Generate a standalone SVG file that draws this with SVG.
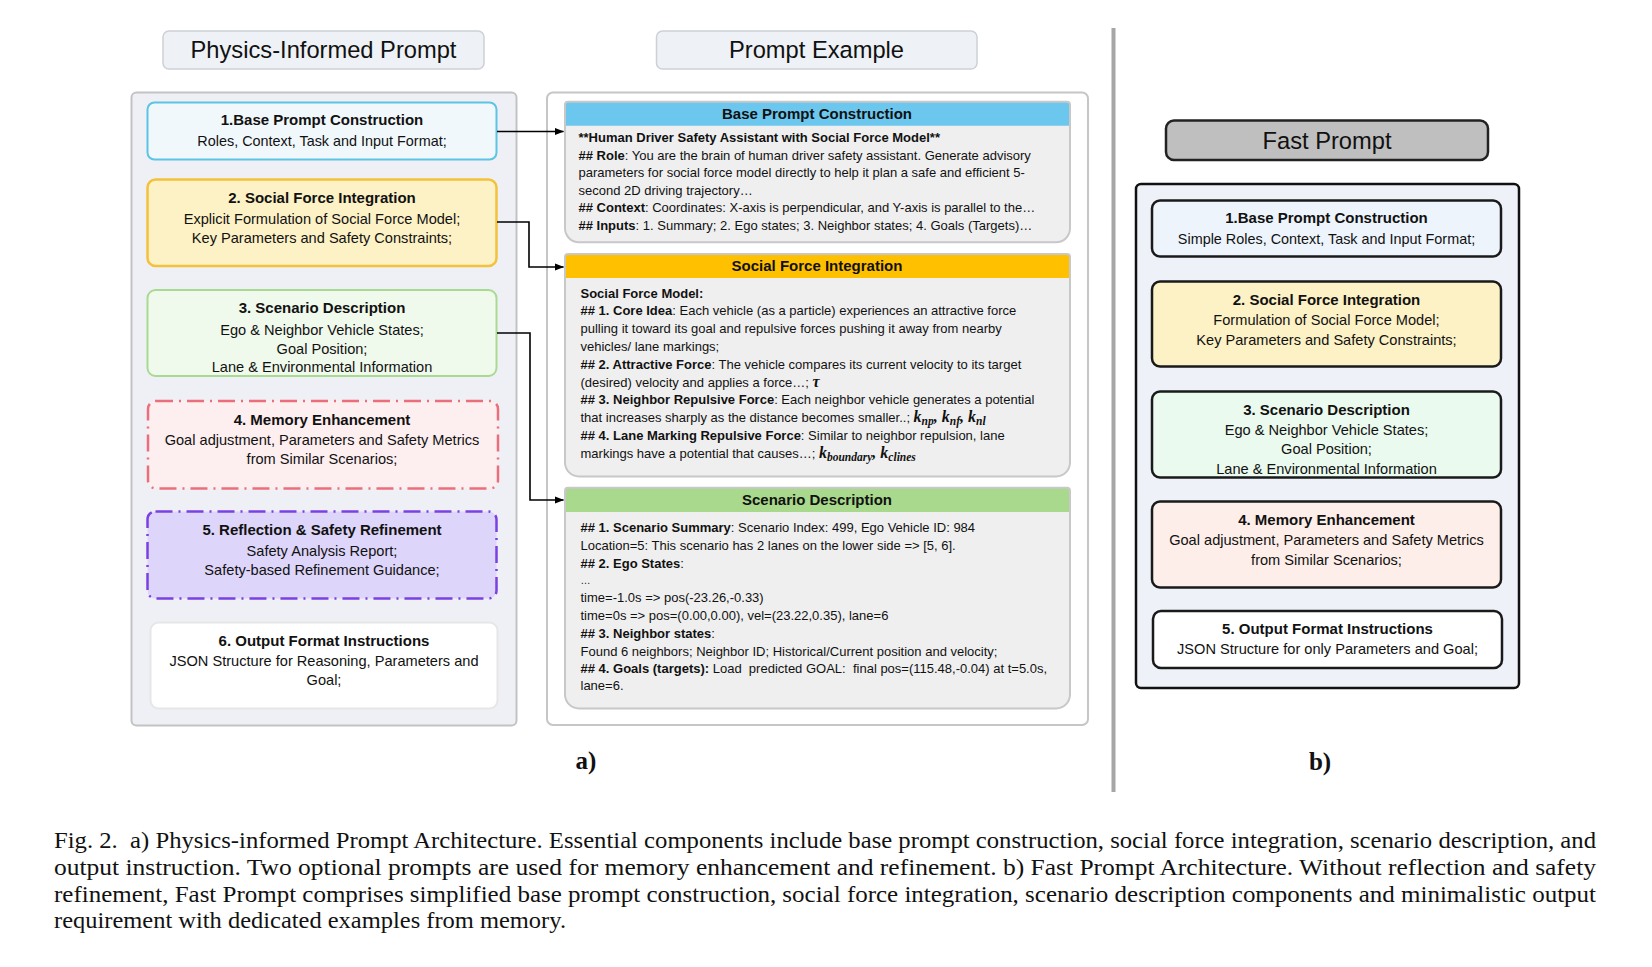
<svg xmlns="http://www.w3.org/2000/svg" width="1652" height="967" viewBox="0 0 1652 967">
<defs>
<marker id="ah" markerWidth="9" markerHeight="8" refX="8.5" refY="4" orient="auto" markerUnits="userSpaceOnUse">
<path d="M0,0.5 L9,4 L0,7.5 Z" fill="#000"/>
</marker>
</defs>
<style>
text{font-family:"Liberation Sans",Arial,sans-serif;fill:#111;white-space:pre}
.ttl{font-size:23.7px;text-anchor:middle}
.bt{font-size:15px;font-weight:bold;text-anchor:middle}
.st{font-size:14.6px;text-anchor:middle}
.hd{font-size:15px;font-weight:bold;text-anchor:middle}
.bd{font-size:13px}
.b{font-weight:bold}
.m{font-family:"Liberation Serif","Times New Roman",serif;font-style:italic;font-weight:bold;font-size:16px}
.ms{font-size:11.5px}
.cap{font-family:"Liberation Serif","Times New Roman",serif;font-size:23px}
.lab{font-family:"Liberation Serif","Times New Roman",serif;font-size:25px;font-weight:bold;text-anchor:middle}
.panelL{fill:#eef0f5;stroke:#c3c3c3;stroke-width:2}
.panelM{fill:#fff;stroke:#c6c6c6;stroke-width:2}
.tbox{fill:#eef1f6;stroke:#cdd0d4;stroke-width:1.5}
.dd{stroke-dasharray:17 6 2 6;stroke-width:2.5}
.card{fill:#efefef}
.cardo{fill:none;stroke:#c8c8c8;stroke-width:2}
.fb{stroke:#1a1a1a;stroke-width:2.5}
.conn{fill:none;stroke:#000;stroke-width:1.6}
</style>

<!-- Panels and titles -->
<g id="title-physics">
<rect class="tbox" x="163" y="31" width="321" height="38" rx="6"/>
<text class="ttl" x="323.5" y="58">Physics-Informed Prompt</text>
</g>
<g id="title-example">
<rect class="tbox" x="656.5" y="31" width="320.5" height="38" rx="6"/>
<text class="ttl" x="816.5" y="58">Prompt Example</text>
</g>
<g id="panel-left"><rect class="panelL" x="131.5" y="92.5" width="385" height="633" rx="5"/></g>
<g id="panel-mid"><rect class="panelM" x="547" y="92.5" width="541" height="632.5" rx="6"/></g>

<!-- Left boxes -->
<g id="box1">
<rect x="147.5" y="102.5" width="349" height="57" rx="7" fill="#f1f8fc" stroke="#5cc4e4" stroke-width="2"/>
<text class="bt" x="322" y="125">1.Base Prompt Construction</text>
<text class="st" x="322" y="145.5" style="font-size:14.4px">Roles, Context, Task and Input Format;</text>
</g>
<g id="box2">
<rect x="147.5" y="179.5" width="349" height="86.5" rx="8" fill="#fdf2c6" stroke="#f3c13a" stroke-width="2.5"/>
<text class="bt" x="322" y="202.5">2. Social Force Integration</text>
<text class="st" x="322" y="223.5">Explicit Formulation of Social Force Model;</text>
<text class="st" x="322" y="242.5">Key Parameters and Safety Constraints;</text>
</g>
<g id="box3">
<rect x="147.5" y="290" width="349" height="86" rx="8" fill="#eff9ec" stroke="#a9da91" stroke-width="2"/>
<text class="bt" x="322" y="312.8">3. Scenario Description</text>
<text class="st" x="322" y="334.5">Ego &amp; Neighbor Vehicle States;</text>
<text class="st" x="322" y="353.5">Goal Position;</text>
<text class="st" x="322" y="372.3">Lane &amp; Environmental Information</text>
</g>
<g id="box4">
<rect class="dd" x="148" y="401" width="350" height="87.5" rx="8" fill="#fdeef0" stroke="#eb6f7a"/>
<text class="bt" x="322" y="424.5">4. Memory Enhancement</text>
<text class="st" x="322" y="444.5">Goal adjustment, Parameters and Safety Metrics</text>
<text class="st" x="322" y="463.5">from Similar Scenarios;</text>
</g>
<g id="box5">
<rect class="dd" x="147.5" y="511.5" width="349" height="87" rx="8" fill="#ddd5fa" stroke="#7b40e2"/>
<text class="bt" x="322" y="534.5">5. Reflection &amp; Safety Refinement</text>
<text class="st" x="322" y="555.5">Safety Analysis Report;</text>
<text class="st" x="322" y="575">Safety-based Refinement Guidance;</text>
</g>
<g id="box6">
<rect x="150.5" y="622.5" width="347" height="86" rx="8" fill="#ffffff" stroke="#e6e6e6" stroke-width="2"/>
<text class="bt" x="324" y="645.5">6. Output Format Instructions</text>
<text class="st" x="324" y="665.5">JSON Structure for Reasoning, Parameters and</text>
<text class="st" x="324" y="685">Goal;</text>
</g>

<!-- Middle cards -->
<g id="card-base">
<path class="card" d="M568,101.7 H1067 A3,3 0 0 1 1070,104.7 V228.3 A14,14 0 0 1 1056,242.3 H579 A14,14 0 0 1 565,228.3 V104.7 A3,3 0 0 1 568,101.7 Z"/>
<path d="M568,101.7 H1067 A3,3 0 0 1 1070,104.7 V125.7 H565 V104.7 A3,3 0 0 1 568,101.7 Z" fill="#6cc7ef"/>
<path class="cardo" d="M568,101.7 H1067 A3,3 0 0 1 1070,104.7 V228.3 A14,14 0 0 1 1056,242.3 H579 A14,14 0 0 1 565,228.3 V104.7 A3,3 0 0 1 568,101.7 Z"/>
<text class="hd" x="817" y="119">Base Prompt Construction</text>
<text class="bd b" x="578.5" y="142">**Human Driver Safety Assistant with Social Force Model**</text>
<text class="bd" x="578.5" y="159.6"><tspan class="b">## Role</tspan>: You are the brain of human driver safety assistant. Generate advisory</text>
<text class="bd" x="578.5" y="177.2">parameters for social force model directly to help it plan a safe and efficient 5-</text>
<text class="bd" x="578.5" y="194.8">second 2D driving trajectory…</text>
<text class="bd" x="578.5" y="212.4"><tspan class="b">## Context</tspan>: Coordinates: X-axis is perpendicular, and Y-axis is parallel to the…</text>
<text class="bd" x="578.5" y="230"><tspan class="b">## Inputs</tspan>: 1. Summary; 2. Ego states; 3. Neighbor states; 4. Goals (Targets)…</text>
</g>
<g id="card-social">
<path class="card" d="M568,254 H1067 A3,3 0 0 1 1070,257 V462.5 A14,14 0 0 1 1056,476.5 H579 A14,14 0 0 1 565,462.5 V257 A3,3 0 0 1 568,254 Z"/>
<path d="M568,254 H1067 A3,3 0 0 1 1070,257 V278 H565 V257 A3,3 0 0 1 568,254 Z" fill="#ffc000"/>
<path class="cardo" d="M568,254 H1067 A3,3 0 0 1 1070,257 V462.5 A14,14 0 0 1 1056,476.5 H579 A14,14 0 0 1 565,462.5 V257 A3,3 0 0 1 568,254 Z"/>
<text class="hd" x="817" y="271.3">Social Force Integration</text>
<text class="bd b" x="580.5" y="297.5">Social Force Model:</text>
<text class="bd" x="580.5" y="315.3"><tspan class="b">## 1. Core Idea</tspan>: Each vehicle (as a particle) experiences an attractive force</text>
<text class="bd" x="580.5" y="333.1">pulling it toward its goal and repulsive forces pushing it away from nearby</text>
<text class="bd" x="580.5" y="350.9">vehicles/ lane markings;</text>
<text class="bd" x="580.5" y="368.7"><tspan class="b">## 2. Attractive Force</tspan>: The vehicle compares its current velocity to its target</text>
<text class="bd" x="580.5" y="386.5">(desired) velocity and applies a force…; <tspan class="m">τ</tspan></text>
<text class="bd" x="580.5" y="404.3"><tspan class="b">## 3. Neighbor Repulsive Force</tspan>: Each neighbor vehicle generates a potential</text>
<text class="bd" x="580.5" y="422.1">that increases sharply as the distance becomes smaller..; <tspan class="m">k</tspan><tspan class="m ms" dy="3">np</tspan><tspan class="m" dy="-3">, k</tspan><tspan class="m ms" dy="3">nf</tspan><tspan class="m" dy="-3">, k</tspan><tspan class="m ms" dy="3">nl</tspan></text>
<text class="bd" x="580.5" y="439.9"><tspan class="b">## 4. Lane Marking Repulsive Force</tspan>: Similar to neighbor repulsion, lane</text>
<text class="bd" x="580.5" y="457.7">markings have a potential that causes…; <tspan class="m">k</tspan><tspan class="m ms" dy="3">boundary</tspan><tspan class="m" dy="-3">, k</tspan><tspan class="m ms" dy="3">clines</tspan></text>
</g>
<g id="card-scenario">
<path class="card" d="M568,487.8 H1067 A3,3 0 0 1 1070,490.8 V694.5 A14,14 0 0 1 1056,708.5 H579 A14,14 0 0 1 565,694.5 V490.8 A3,3 0 0 1 568,487.8 Z"/>
<path d="M568,487.8 H1067 A3,3 0 0 1 1070,490.8 V512 H565 V490.8 A3,3 0 0 1 568,487.8 Z" fill="#a9d98c"/>
<path class="cardo" d="M568,487.8 H1067 A3,3 0 0 1 1070,490.8 V694.5 A14,14 0 0 1 1056,708.5 H579 A14,14 0 0 1 565,694.5 V490.8 A3,3 0 0 1 568,487.8 Z"/>
<text class="hd" x="817" y="505.3">Scenario Description</text>
<text class="bd" x="580.5" y="532.4"><tspan class="b">## 1. Scenario Summary</tspan>: Scenario Index: 499, Ego Vehicle ID: 984</text>
<text class="bd" x="580.5" y="550.2">Location=5: This scenario has 2 lanes on the lower side =&gt; [5, 6].</text>
<text class="bd" x="580.5" y="568"><tspan class="b">## 2. Ego States</tspan>:</text>
<text class="bd" x="580.5" y="584" style="font-size:10px">…</text>
<text class="bd" x="580.5" y="601.9">time=-1.0s =&gt; pos(-23.26,-0.33)</text>
<text class="bd" x="580.5" y="619.8">time=0s =&gt; pos=(0.00,0.00), vel=(23.22,0.35), lane=6</text>
<text class="bd" x="580.5" y="637.7"><tspan class="b">## 3. Neighbor states</tspan>:</text>
<text class="bd" x="580.5" y="655.6">Found 6 neighbors; Neighbor ID; Historical/Current position and velocity;</text>
<text class="bd" x="580.5" y="672.8"><tspan class="b">## 4. Goals (targets):</tspan> Load  predicted GOAL:  final pos=(115.48,-0.04) at t=5.0s,</text>
<text class="bd" x="580.5" y="690.4">lane=6.</text>
</g>

<!-- Connectors -->
<g id="connectors">
<path class="conn" d="M497,131.5 H563.5" marker-end="url(#ah)"/>
<path class="conn" d="M497,222 H529 V267 H563.5" marker-end="url(#ah)"/>
<path class="conn" d="M497,333 H530 V500 H563.5" marker-end="url(#ah)"/>
</g>

<g id="label-a"><text class="lab" x="586" y="769">a)</text></g>

<!-- Divider -->
<g id="divider"><line x1="1113.5" y1="28" x2="1113.5" y2="792" stroke="#a6a6a6" stroke-width="4"/></g>

<!-- Fast prompt -->
<g id="title-fast">
<rect x="1166" y="120.5" width="322" height="39.5" rx="8" fill="#bfbfbf" stroke="#222" stroke-width="2.5"/>
<text class="ttl" x="1327" y="148.5">Fast Prompt</text>
</g>
<g id="panel-fast"><rect x="1136" y="184" width="383" height="504" rx="5" fill="#eef2f8" stroke="#111" stroke-width="2.5"/></g>
<g id="fbox1">
<rect class="fb" x="1152" y="200.5" width="349" height="56" rx="8" fill="#edf4fc"/>
<text class="bt" x="1326.5" y="223.3">1.Base Prompt Construction</text>
<text class="st" x="1326.5" y="244" style="font-size:14.4px">Simple Roles, Context, Task and Input Format;</text>
</g>
<g id="fbox2">
<rect class="fb" x="1152" y="281.5" width="349" height="85" rx="8" fill="#fdf1c6"/>
<text class="bt" x="1326.5" y="304.5">2. Social Force Integration</text>
<text class="st" x="1326.5" y="324.5">Formulation of Social Force Model;</text>
<text class="st" x="1326.5" y="344.5">Key Parameters and Safety Constraints;</text>
</g>
<g id="fbox3">
<rect class="fb" x="1152" y="391.5" width="349" height="86" rx="8" fill="#eafaee"/>
<text class="bt" x="1326.5" y="414.5">3. Scenario Description</text>
<text class="st" x="1326.5" y="434.5">Ego &amp; Neighbor Vehicle States;</text>
<text class="st" x="1326.5" y="454">Goal Position;</text>
<text class="st" x="1326.5" y="473.5">Lane &amp; Environmental Information</text>
</g>
<g id="fbox4">
<rect class="fb" x="1152" y="501.5" width="349" height="86" rx="8" fill="#fdeee9"/>
<text class="bt" x="1326.5" y="524.5">4. Memory Enhancement</text>
<text class="st" x="1326.5" y="544.5">Goal adjustment, Parameters and Safety Metrics</text>
<text class="st" x="1326.5" y="564.5">from Similar Scenarios;</text>
</g>
<g id="fbox5">
<rect class="fb" x="1153" y="611" width="349" height="57" rx="8" fill="#ffffff"/>
<text class="bt" x="1327.5" y="634">5. Output Format Instructions</text>
<text class="st" x="1327.5" y="654">JSON Structure for only Parameters and Goal;</text>
</g>
<g id="label-b"><text class="lab" x="1320" y="770">b)</text></g>

<!-- Caption -->
<g id="caption">
<text class="cap" x="54" y="848.3" textLength="1542" lengthAdjust="spacingAndGlyphs">Fig. 2.  a) Physics-informed Prompt Architecture. Essential components include base prompt construction, social force integration, scenario description, and</text>
<text class="cap" x="54" y="875" textLength="1542" lengthAdjust="spacingAndGlyphs">output instruction. Two optional prompts are used for memory enhancement and refinement. b) Fast Prompt Architecture. Without reflection and safety</text>
<text class="cap" x="54" y="901.7" textLength="1542" lengthAdjust="spacingAndGlyphs">refinement, Fast Prompt comprises simplified base prompt construction, social force integration, scenario description components and minimalistic output</text>
<text class="cap" x="54" y="928.3" textLength="512" lengthAdjust="spacingAndGlyphs">requirement with dedicated examples from memory.</text>
</g>
</svg>
